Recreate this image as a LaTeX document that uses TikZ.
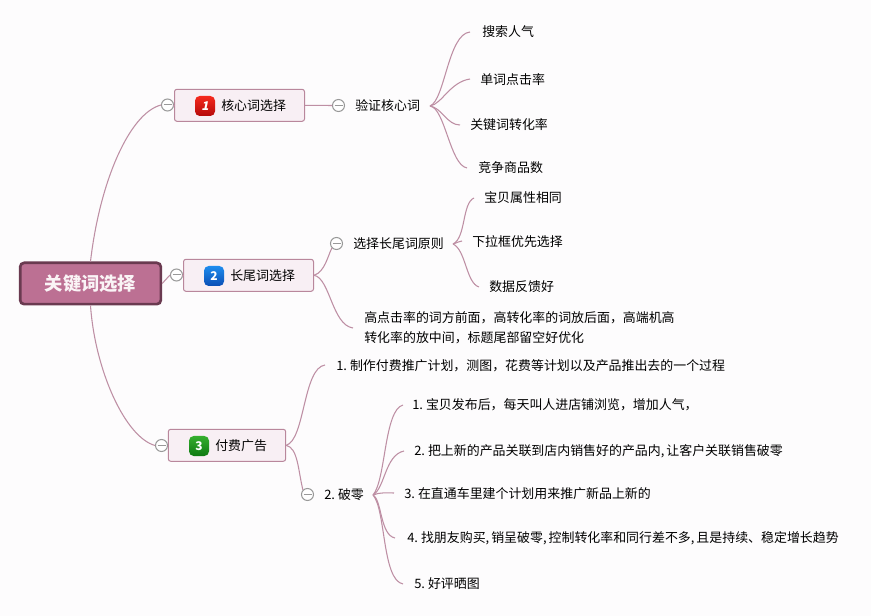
\documentclass[tikz,border=0pt]{standalone}
\usepackage{fontspec}
\setmainfont{Noto Sans CJK SC}
\newfontfamily\slantnum{Noto Sans CJK SC}[FakeSlant=0.2]
\definecolor{linkc}{HTML}{BE8FA4}
\definecolor{rootfill}{HTML}{BC7093}
\definecolor{rootedge}{HTML}{6A3A50}
\definecolor{subfill}{HTML}{F8EFF4}
\definecolor{subedge}{HTML}{B9879C}
\definecolor{foldc}{HTML}{999999}
\definecolor{bgc}{HTML}{FDFCFD}
\definecolor{redtop}{HTML}{F52A1E}
\definecolor{redbot}{HTML}{B50A0A}
\definecolor{bluetop}{HTML}{1E8CEE}
\definecolor{bluebot}{HTML}{0A4FB5}
\definecolor{greentop}{HTML}{35AE2E}
\definecolor{greenbot}{HTML}{0F7A12}
\newcommand{\dg}[1]{#1.\hspace{2.25pt}}
\newcommand{\cm}{,\hspace{1.5pt}}
\tikzset{
 x=0.75pt,y=-0.75pt,
 txt/.style={inner sep=0pt,anchor=west,yshift=-0.75pt,align=left,font=\fontsize{9.7pt}{15pt}\selectfont,text=black},
 rootbox/.style={draw=rootedge,line width=2pt,fill=rootfill,rounded corners=3pt,minimum width=105.5pt,minimum height=31pt,text=white!92!rootfill,font=\fontsize{13.7pt}{16pt}\selectfont\bfseries,inner sep=0pt},
 subbox/.style={draw=subedge,line width=0.75pt,fill=subfill,rounded corners=1.8pt,minimum height=24pt,inner sep=0pt},
 fold/.style={circle,draw=foldc,line width=0.75pt,fill=white,minimum size=9pt,inner sep=0pt,path picture={\draw[foldc,line width=0.75pt] ([xshift=-3pt]path picture bounding box.center)--([xshift=3pt]path picture bounding box.center);}},
 link/.style={draw=linkc,line width=0.8pt},
 ico/.style={rounded corners=3.5pt,minimum size=15pt,inner sep=0pt,text=white,font=\fontsize{9pt}{10pt}\selectfont\bfseries},
}
\begin{document}
\begin{tikzpicture}
\path[use as bounding box,fill=bgc] (0,0) rectangle (871,616);
\coordinate (j1) at (430,106);
\coordinate (j2) at (453,244);
\coordinate (j3) at (373,495);
\coordinate (e1) at (470,32);
\coordinate (e2) at (470,79);
\coordinate (e3) at (460,125);
\coordinate (e4) at (467,168);
\coordinate (g1) at (474,198);
\coordinate (g2) at (462,241);
\coordinate (g3) at (479,287);
\coordinate (g4) at (353,328);
\coordinate (h1) at (325,365);
\coordinate (k1) at (403,405);
\coordinate (k2) at (404,451);
\coordinate (k3) at (394,493);
\coordinate (k4) at (395,538);
\coordinate (k5) at (403,584);

\node[rootbox] (root) at (90.5,283.5) {关键词选择};
\node[subbox,minimum width=97.5pt] (s1) at (239.5,105.3) {};
\node[subbox,minimum width=97.5pt] (s2) at (248.5,275.3) {};
\node[subbox,minimum width=88pt] (s3) at (227,445.3) {};
\node[fold] (f1) at (167.5,105) {};
\node[fold] (f2) at (176.5,275) {};
\node[fold] (f3) at (161.5,445.5) {};
\node[fold] (f11) at (338.5,105.5) {};
\node[fold] (f21) at (336.5,243.5) {};
\node[fold] (f32) at (307.5,494.5) {};

\node[txt] (t1) at (221,105) {核心词选择};
\node[txt] (t2) at (230,275) {长尾词选择};
\node[txt] (t3) at (215,445) {付费广告};
\node[ico,top color=redtop,bottom color=redbot] (i1) at (205,106) {\slantnum 1};
\node[ico,top color=bluetop,bottom color=bluebot] (i2) at (214,276) {2};
\node[ico,top color=greentop,bottom color=greenbot] (i3) at (199,446) {3};

\node[txt] (n1) at (355,105) {验证核心词};
\node[txt] (n2) at (353,243) {选择长尾词原则};
\node[txt] (a1) at (482,31) {搜索人气};
\node[txt] (a2) at (480,79) {单词点击率};
\node[txt] (a3) at (470,124) {关键词转化率};
\node[txt] (a4) at (478,167) {竞争商品数};
\node[txt] (b1) at (484,197) {宝贝属性相同};
\node[txt] (b2) at (472,241) {下拉框优先选择};
\node[txt] (b3) at (489,286) {数据反馈好};
\node[txt] (b4) at (364,327) {高点击率的词方前面，高转化率的词放后面，高端机高\\转化率的放中间，标题尾部留空好优化};
\node[txt] (c1) at (336,365) {\dg{1}制作付费推广计划，测图，花费等计划以及产品推出去的一个过程};
\node[txt] (c2) at (324,494) {\dg{2}破零};
\node[txt] (d1) at (412,404) {\dg{1}宝贝发布后，每天叫人进店铺浏览，增加人气，};
\node[txt] (d2) at (414,450) {\dg{2}把上新的产品关联到店内销售好的产品内\cm 让客户关联销售破零};
\node[txt] (d3) at (404,493) {\dg{3}在直通车里建个计划用来推广新品上新的};
\node[txt] (d4) at (407,537) {\dg{4}找朋友购买\cm 销呈破零\cm 控制转化率和同行差不多\cm 且是持续、稳定增长趋势};
\node[txt] (d5) at (414,583) {\dg{5}好评晒图};

\draw[link] (f1.west) .. controls (130,113) and (100,180) .. (root.north);
\draw[link] (root.south) .. controls (95,370) and (125,437) .. (f3.west);
\draw[link] (root.east) -- (f2.west);
\draw[link] (f2.east) -- (s2.west);
\draw[link] (f1.east) -- (s1.west);
\draw[link] (f3.east) -- (s3.west);
\draw[link] (s1.east) -- (f11.west);
\draw[link] (s2.east) .. controls (325,272) and (328,255) .. (f21.south west);
\draw[link] (s2.east) .. controls (330,278) and (332,325) .. (g4);
\draw[link] (s3.east) .. controls (305,440) and (303,368) .. (h1);
\draw[link] (s3.east) .. controls (298,448) and (298,470) .. (f32.north west);
\draw[link] (j1) .. controls (445,100) and (448,34) .. (e1);
\draw[link] (j1) .. controls (442,104) and (450,82) .. (e2);
\draw[link] (j1) .. controls (442,108) and (447,125) .. (e3);
\draw[link] (j1) .. controls (445,108) and (450,165) .. (e4);
\draw[link] (j2) .. controls (466,238) and (462,203) .. (g1);
\draw[link] (j2) .. controls (457,243) and (459,241) .. (g2);
\draw[link] (j2) .. controls (466,250) and (466,283) .. (g3);
\draw[link] (j3) .. controls (386,480) and (384,410) .. (k1);
\draw[link] (j3) .. controls (385,488) and (385,455) .. (k2);
\draw[link] (j3) .. controls (380,492) and (388,493) .. (k3);
\draw[link] (j3) .. controls (382,500) and (380,535) .. (k4);
\draw[link] (j3) .. controls (386,510) and (382,580) .. (k5);
\end{tikzpicture}
\end{document}
